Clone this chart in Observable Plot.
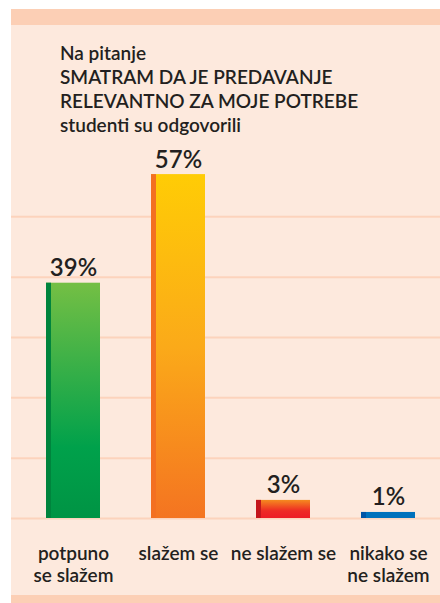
<!DOCTYPE html>
<html>
<head>
<meta charset="utf-8">
<script src="https://cdn.jsdelivr.net/npm/d3@7"></script>
<script src="https://cdn.jsdelivr.net/npm/@observablehq/plot@0.6"></script>
<style>
  html, body { margin: 0; padding: 0; background: #ffffff; }
  body { width: 440px; height: 603px; position: relative; overflow: hidden; font-family: Lato, "Noto Sans", sans-serif; }
  #panel { position: absolute; left: 11px; top: 9px; width: 429px; height: 594px; background: #fde9dd; }
  #topband { position: absolute; left: 11px; top: 9px; width: 429px; height: 16px; background: #fccfb5; }
  #bottomband { position: absolute; left: 11px; top: 595px; width: 429px; height: 8px; background: #fccfb5; }
  #title { position: absolute; left: 60px; top: 41px; font-size: 19px; line-height: 24px; font-weight: 600; color: #231f20; white-space: nowrap; }
  #chart { position: absolute; left: 11px; top: 140px; width: 429px; height: 455px; }
</style>
</head>
<body>
<div id="panel"></div>
<div id="topband"></div>
<div id="bottomband"></div>
<div id="title">Na pitanje<br>SMATRAM DA JE PREDAVANJE<br>RELEVANTNO ZA MOJE POTREBE<br>studenti su odgovorili</div>
<div id="chart"></div>
<script>
// ---- data ----
const categories = ["potpuno\nse slažem", "slažem se", "ne slažem se", "nikako se\nne slažem"];
const values = [39, 57, 3, 1];
const valueLabels = ["39%", "57%", "3%", "1%"];
const gridTicks = [0, 10, 20, 30, 40, 50];

// ---- styles ----
const barFills = ["url(#gGreen)", "url(#gOrange)", "url(#gRed)", "#0071bc"];
const stripeFills = ["#00843d", "#f37021", "#c4161c", "#0054a6"];
const gradients = [
  {id: "gGreen", stops: [[0, "#74bf44"], [0.7, "#00a14b"], [1, "#009444"]]},
  {id: "gOrange", stops: [[0, "#ffcc05"], [0.5, "#fbaa19"], [1, "#f47421"]]},
  {id: "gRed", stops: [[0, "#f58a1f"], [0.6, "#ee2a24"], [1, "#ed1c24"]]}
];

const rows = categories.map((c, i) => ({cat: c, value: values[i], label: valueLabels[i], fill: barFills[i], stripe: stripeFills[i]}));

function defsMark() {
  const defs = d3.create("svg:defs");
  for (const g of gradients) {
    const lg = defs.append("linearGradient").attr("id", g.id)
      .attr("x1", 0).attr("y1", 0).attr("x2", 0).attr("y2", 1);
    for (const [o, c] of g.stops) lg.append("stop").attr("offset", o).attr("stop-color", c);
  }
  return defs.node();
}

const chart = Plot.plot({
  width: 429,
  height: 455,
  marginLeft: 0,
  marginRight: 0,
  marginTop: 16,
  marginBottom: 77,
  style: {background: "transparent", fontFamily: "Lato, 'Noto Sans', sans-serif", color: "#231f20", overflow: "visible"},
  x: {domain: categories, range: [-17.5, 456], padding: 0.488, label: null},
  y: {domain: [0, 60], axis: null},
  color: {type: "identity"},
  marks: [
    defsMark,
    Plot.ruleY(gridTicks, {stroke: "#fcd3bc", strokeWidth: 2}),
    Plot.barY(rows, {x: "cat", y: "value", fill: "fill"}),
    Plot.barY(rows, {x: "cat", y: "value", fill: "stripe", insetRight: 49}),
    Plot.text(rows, {x: "cat", y: "value", text: "label", dy: -7, lineAnchor: "bottom", fontSize: 24, fontWeight: 600, fill: "#231f20"}),
    Plot.axisX({tickSize: 0, tickPadding: 25, fontSize: 19, fontWeight: 600, lineHeight: 1.2, label: null, fill: "#231f20"})
  ]
});
document.getElementById("chart").appendChild(chart);
</script>
</body>
</html>
